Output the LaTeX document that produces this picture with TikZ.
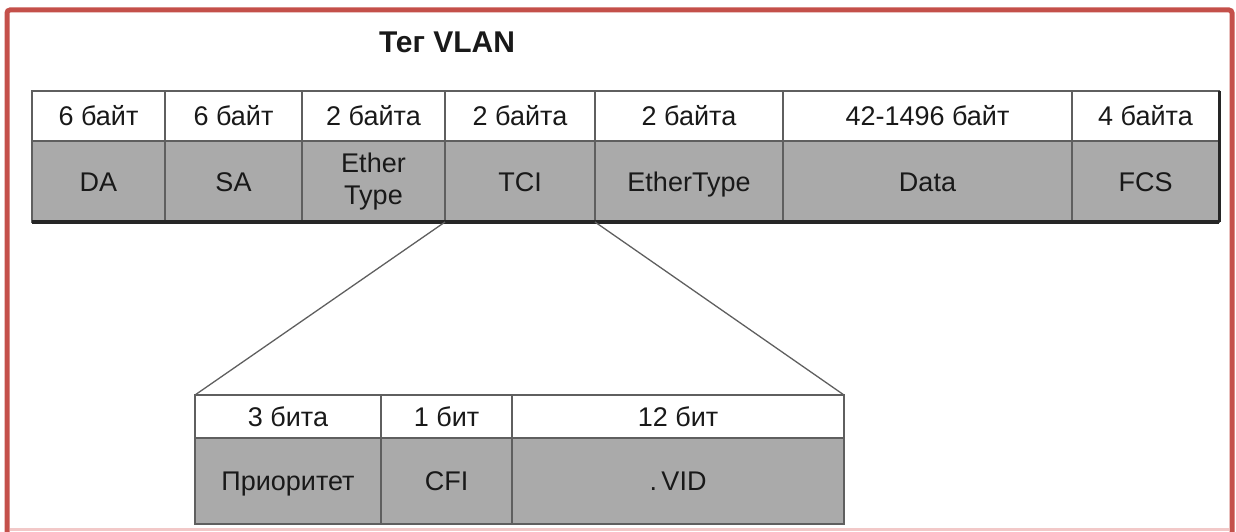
\documentclass[tikz,border=0pt]{standalone}
\usepackage{fontspec}
\setmainfont{Liberation Sans}
\definecolor{frame}{RGB}{196,80,74}
\definecolor{pinkline}{RGB}{242,200,200}
\definecolor{cellgray}{RGB}{170,170,170}
\definecolor{rule}{RGB}{95,95,95}
\definecolor{ink}{RGB}{25,25,25}
\tikzset{
  cellbase/.style={draw=rule, line width=1.6pt, anchor=north west, inner sep=0pt, outer sep=0pt,
    font=\fontsize{27}{32}\selectfont, text=ink, align=center},
  hcell/.style={cellbase, fill=white, text height=19.5pt, text depth=0pt},
  gcell/.style={cellbase, fill=cellgray, text height=19.5pt, text depth=0pt},
  gcelltwo/.style={cellbase, fill=cellgray},
  link/.style={draw=rule, line width=1.3pt},
  heavy/.style={draw=black!85, line width=3.5pt}
}
\begin{document}
\begin{tikzpicture}[x=1pt,y=-1pt]
\useasboundingbox (0,0) rectangle (1236,532);
% frame
\draw[pinkline, line width=3pt] (10,529) -- (1229,529);
\draw[frame, line width=5pt, rounded corners=3pt] (7,540) -- (7,10) -- (1232,10) -- (1232,540);
% title
\node[font=\bfseries\fontsize{30}{32}\selectfont, text=ink] (title) at (447,42) {Тег VLAN};
% header row of frame
\node[hcell, minimum width=133pt, minimum height=50pt] (h1) at (32,91) {6 байт};
\node[hcell, minimum width=137pt, minimum height=50pt] (h2) at (165,91) {6 байт};
\node[hcell, minimum width=143pt, minimum height=50pt] (h3) at (302,91) {2 байта};
\node[hcell, minimum width=150pt, minimum height=50pt] (h4) at (445,91) {2 байта};
\node[hcell, minimum width=188pt, minimum height=50pt] (h5) at (595,91) {2 байта};
\node[hcell, minimum width=289pt, minimum height=50pt] (h6) at (783,91) {42-1496 байт};
\node[hcell, minimum width=147pt, minimum height=50pt] (h7) at (1072,91) {4 байта};
% gray row of frame
\node[gcell, minimum width=133pt, minimum height=81pt] (da) at (32,141) {DA};
\node[gcell, minimum width=137pt, minimum height=81pt] (sa) at (165,141) {SA};
\node[gcelltwo, minimum width=143pt, minimum height=81pt] (et1) at (302,141) {Ether\\Type};
\node[gcell, minimum width=150pt, minimum height=81pt] (tci) at (445,141) {TCI};
\node[gcell, minimum width=188pt, minimum height=81pt] (et2) at (595,141) {EtherType};
\node[gcell, minimum width=289pt, minimum height=81pt] (data) at (783,141) {Data};
\node[gcell, minimum width=147pt, minimum height=81pt] (fcs) at (1072,141) {FCS};
\draw[heavy] (da.south west) -- (fcs.south east);
\draw[draw=black!85, line width=3pt] (h7.north east) -- (fcs.south east);
% sub table
\node[hcell, minimum width=186pt, minimum height=43pt] (b3) at (195,395) {3 бита};
\node[hcell, minimum width=131pt, minimum height=43pt] (b1) at (381,395) {1 бит};
\node[hcell, minimum width=332pt, minimum height=43pt] (b12) at (512,395) {12 бит};
\node[gcell, minimum width=186pt, minimum height=86pt] (prio) at (195,438) {Приоритет};
\node[gcell, minimum width=131pt, minimum height=86pt] (cfi) at (381,438) {CFI};
\node[gcell, minimum width=332pt, minimum height=86pt] (vid) at (512,438) {.\,VID};
% expansion lines
\draw[link] (tci.south west) -- (b3.north west);
\draw[link] (tci.south east) -- (b12.north east);
\end{tikzpicture}
\end{document}
